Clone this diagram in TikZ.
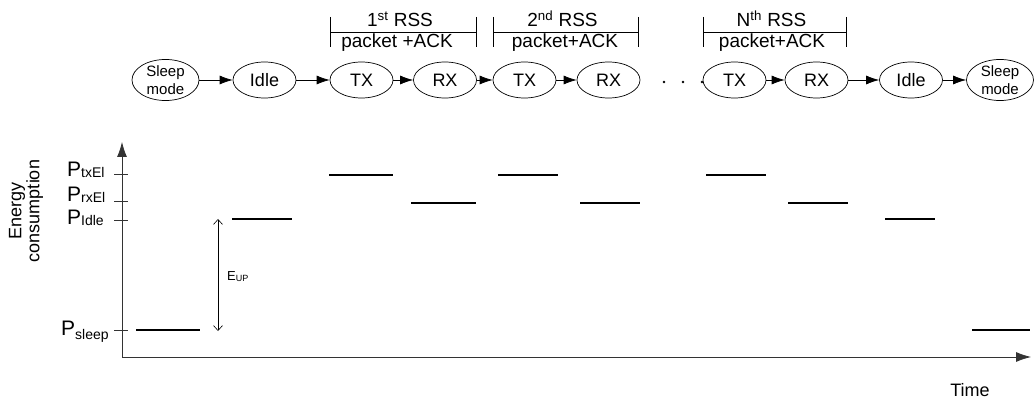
\documentclass[tikz,border=0pt]{standalone}
\usepackage{fontspec}
\setmainfont{Liberation Sans}
\usetikzlibrary{shapes.geometric,arrows.meta,calc}

\newcommand{\fsz}[1]{\fontsize{#1}{#1}\selectfont}
% power level label: large P with a lowered small subscript
\newcommand{\plab}[3]{{\fsz{21}#1}\raisebox{#3}{\fsz{14}#2}}

\begin{document}
\begin{tikzpicture}[x=1pt,y=-1pt,
  state/.style={ellipse,draw,line width=0.7pt,minimum width=63pt,minimum height=36pt,
                inner sep=0pt,font=\fsz{18}},
  sleepstate/.style={state,minimum width=67pt,font=\fontsize{15}{18}\selectfont,align=center},
  flow/.style={-{Latex[length=13pt,width=9pt]},line width=0.7pt},
  bar/.style={line width=2.8pt},
  axis/.style={-{Latex[length=15pt,width=10pt]},line width=0.8pt,draw=black!80},
  tickmark/.style={line width=0.8pt,draw=black!80},
  bracket/.style={line width=0.7pt},
  lbl/.style={font=\fsz{19},inner sep=0pt},
  ylab/.style={inner sep=0pt,anchor=base west},
]
\useasboundingbox (0,0) rectangle (1036,403);

% ---- state sequence ----
\node[sleepstate] (S1) at (165.5,80) {Sleep\\mode};
\node[state] (I1) at (264.5,80) {Idle};
\node[state] (T1) at (361.5,80) {TX};
\node[state] (R1) at (445,80) {RX};
\node[state] (T2) at (524.5,80) {TX};
\node[state] (R2) at (608.5,80) {RX};
\node[state] (T3) at (734.5,80) {TX};
\node[state] (R3) at (816.5,80) {RX};
\node[state] (I2) at (911,80) {Idle};
\node[sleepstate] (S2) at (1000,80) {Sleep\\mode};

\draw[flow] (S1) -- (I1);
\draw[flow] (I1) -- (T1);
\draw[flow] (T1) -- (R1);
\draw[flow] (R1) -- (T2);
\draw[flow] (T2) -- (R2);
\draw[flow] (T3) -- (R3);
\draw[flow] (R3) -- (I2);
\draw[flow] (I2) -- (S2);

% dots between the 2nd and the Nth exchange
\foreach \x in {664,683,702} \fill (\x,82) circle (1.3pt);

% ---- RSS brackets ----
\foreach \a/\b/\n/\lab/\sub in {330/476/A/1/st, 493/638/B/2/nd, 703/846/C/N/th}{
  \draw[bracket] (\a,17) -- (\a,47) (\b,17) -- (\b,47) (\a,32) -- (\b,32);
  \node[lbl,anchor=base] (rss\n) at ({(\a+\b)/2-3},27) {\lab\textsuperscript{\sub} RSS};
}
\node[lbl,anchor=base] (pkA) at (397,48) {packet +ACK};
\node[lbl,anchor=base] (pkB) at (565,48) {packet+ACK};
\node[lbl,anchor=base] (pkC) at (772,48) {packet+ACK};

% ---- axes ----
\coordinate (O) at (122,357);
\coordinate (Ytop) at (122,142);
\coordinate (Xend) at (1031,357);
\draw[axis] (O) -- (Ytop);
\draw[axis] (O) -- (Xend);

\foreach \y in {174,201,220,330} \draw[tickmark] (114,\y) -- (128,\y);

\node[ylab] (Ptx) at (67,177) {\plab{P}{txEl}{-1pt}};
\node[ylab] (Prx) at (67,202) {\plab{P}{rxEl}{-1pt}};
\node[ylab] (Pid) at (67,225) {\plab{P}{Idle}{-1pt}};
\node[ylab] (Psl) at (61,335) {\plab{P}{sleep}{-4pt}};

\node[rotate=90,align=center,font=\fontsize{18}{18}\selectfont,inner sep=0pt] (ylabel)
  at (26,211) {Energy\\consumption};
\node[font=\fsz{18},inner sep=0pt] (xlabel) at (970,390) {Time};

% ---- power levels over time ----
\draw[bar] (136,330) -- (200,330);
\draw[bar] (232,219) -- (292,219);
\draw[bar] (329,175) -- (393,175);
\draw[bar] (411,203) -- (476,203);
\draw[bar] (498,175) -- (558,175);
\draw[bar] (580,203) -- (640,203);
\draw[bar] (706,175) -- (766,175);
\draw[bar] (788,203) -- (848,203);
\draw[bar] (885,219) -- (935,219);
\draw[bar] (972,330) -- (1030,330);

% wake-up energy
\coordinate (Eup1) at (218,219);
\coordinate (Eup2) at (218,331);
\draw[{Straight Barb[length=5pt,width=9pt]}-{Straight Barb[length=5pt,width=9pt]},line width=0.6pt]
  (Eup1) -- (Eup2);
\node[inner sep=0pt,anchor=base west] (Elab) at (227,281)
  {{\fsz{13}E}\raisebox{-1pt}{\fsz{9}UP}};
\end{tikzpicture}
\end{document}
